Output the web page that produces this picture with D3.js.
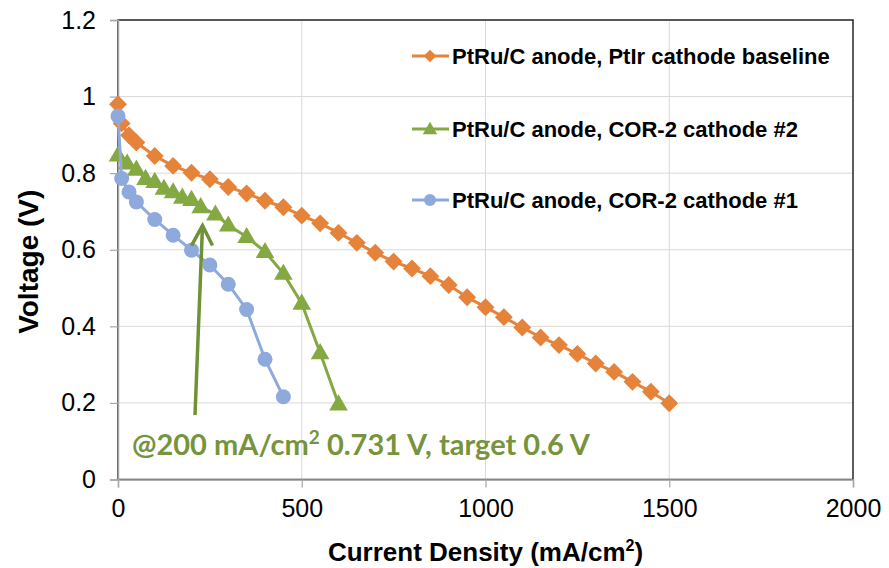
<!DOCTYPE html>
<html><head><meta charset="utf-8">
<script src="https://cdn.jsdelivr.net/npm/d3@7/dist/d3.min.js"></script>
<style>body{margin:0;background:#fff}svg{display:block}</style>
</head><body>
<svg id="c" width="889" height="568"></svg>
<script>
// ---- data ----
const baselineX = [0,10,30,50,100,150,200,250,300,350,400,450,500,550,600,650,700,750,800,850,900,950,1000,1050,1100,1150,1200,1250,1300,1350,1400,1450,1500];
const baselineV = [0.980,0.930,0.899,0.880,0.845,0.819,0.801,0.784,0.764,0.747,0.728,0.711,0.689,0.669,0.644,0.618,0.592,0.569,0.551,0.531,0.508,0.476,0.450,0.424,0.397,0.371,0.351,0.328,0.303,0.281,0.255,0.229,0.199];
const cor2n2X = [0,25,50,75,100,125,150,175,200,225,265,300,350,400,450,500,550,600];
const cor2n2V = [0.847,0.826,0.810,0.786,0.778,0.760,0.751,0.737,0.731,0.712,0.693,0.664,0.634,0.595,0.538,0.460,0.331,0.197];
const cor2n1X = [0,10,30,50,100,150,200,250,300,350,400,450];
const cor2n1V = [0.949,0.786,0.751,0.725,0.679,0.638,0.599,0.560,0.510,0.444,0.314,0.216];
const seriesNames = ["PtRu/C anode, PtIr cathode baseline","PtRu/C anode, COR-2 cathode #2","PtRu/C anode, COR-2 cathode #1"];
const xTicks = [0,500,1000,1500,2000];
const yTicks = [0,0.2,0.4,0.6,0.8,1,1.2];
const annoX = [200], annoV = [0.731];

const svg = d3.select("#c");
const L=118,R=853,T=20,B=479.5;
const x = d3.scaleLinear().domain([0,2000]).range([L,R]);
const y = d3.scaleLinear().domain([0,1.2]).range([B,T]);

// gridlines
svg.append("g").selectAll("line").data(yTicks.slice(1)).join("line")
  .attr("x1",L).attr("x2",R).attr("y1",d=>y(d)).attr("y2",d=>y(d))
  .attr("stroke","#D9D9D9").attr("stroke-width",1);
svg.append("g").selectAll("line").data(xTicks.slice(1,-1)).join("line")
  .attr("y1",T).attr("y2",B).attr("x1",d=>x(d)).attr("x2",d=>x(d))
  .attr("stroke","#D9D9D9").attr("stroke-width",1);
// plot border
svg.append("rect").attr("x",L).attr("y",T).attr("width",R-L).attr("height",B-T)
  .attr("fill","none").attr("stroke","#262626").attr("stroke-width",1.5);

// axes
const xAxis = d3.axisBottom(x).tickValues(xTicks).tickSize(8).tickPadding(12).tickFormat(d3.format("d"));
const yAxis = d3.axisLeft(y).tickValues(yTicks).tickSize(8).tickPadding(14).tickFormat(d=>String(d));
const gx = svg.append("g").attr("transform",`translate(0,${B})`).call(xAxis);
const gy = svg.append("g").attr("transform",`translate(${L},0)`).call(yAxis);
[gx,gy].forEach(g=>{
  g.select(".domain").attr("stroke","#A6A6A6").attr("stroke-width",1.5);
  g.selectAll(".tick line").attr("stroke","#A6A6A6").attr("stroke-width",1.2);
  g.selectAll("text").attr("fill","#000").attr("font-family","'Liberation Sans',Arial,sans-serif").attr("font-size",25);
});

// axis titles
svg.append("text").attr("x",(L+R)/2).attr("y",561).attr("text-anchor","middle")
  .attr("font-family","'Liberation Sans',Arial,sans-serif").attr("font-weight","bold").attr("font-size",26)
  .html('Current Density (mA/cm<tspan dy="-10" font-size="16">2</tspan><tspan dy="10">)</tspan>');
svg.append("text").attr("transform",`translate(38,${(T+B)/2+12}) rotate(-90)`).attr("text-anchor","middle")
  .attr("font-family","'Liberation Sans',Arial,sans-serif").attr("font-weight","bold").attr("font-size",28)
  .text("Voltage (V)");

// series
const colors = ["#E5833B","#84A842","#8EA9DB"];
const data = [
  baselineX.map((d,i)=>[d,baselineV[i]]),
  cor2n2X.map((d,i)=>[d,cor2n2V[i]]),
  cor2n1X.map((d,i)=>[d,cor2n1V[i]])
];
const line = d3.line().x(d=>x(d[0])).y(d=>y(d[1]));
function marker(g, i, px, py){
  if(i===0){
    g.append("path").attr("d",d3.symbol().type(d3.symbolSquare).size(160)())
     .attr("transform",`translate(${px},${py}) rotate(45)`).attr("fill",colors[0]);
  } else if(i===1){
    g.append("path").attr("d",d3.symbol().type(d3.symbolTriangle).size(150)())
     .attr("transform",`translate(${px},${py+1})`).attr("fill",colors[1]);
  } else {
    g.append("circle").attr("cx",px).attr("cy",py).attr("r",7.5).attr("fill",colors[2]);
  }
}
[0,1,2].forEach(i=>{
  const g = svg.append("g");
  g.append("path").attr("d",line(data[i])).attr("fill","none").attr("stroke",colors[i]).attr("stroke-width",3);
  data[i].forEach(d=>marker(g,i,x(d[0]),y(d[1])));
});

// legend
const legY = [56,129,200];
seriesNames.forEach((n,i)=>{
  const g = svg.append("g");
  g.append("line").attr("x1",412).attr("x2",449).attr("y1",legY[i]).attr("y2",legY[i]).attr("stroke",colors[i]).attr("stroke-width",3);
  if(i===0){
    g.append("path").attr("d",d3.symbol().type(d3.symbolSquare).size(80)())
     .attr("transform",`translate(430,${legY[i]}) rotate(45)`).attr("fill",colors[0]);
  } else if(i===1){
    g.append("path").attr("d",d3.symbol().type(d3.symbolTriangle).size(90)())
     .attr("transform",`translate(430,${legY[i]+1})`).attr("fill",colors[1]);
  } else {
    g.append("circle").attr("cx",430).attr("cy",legY[i]).attr("r",6).attr("fill",colors[2]);
  }
  g.append("text").attr("x",452).attr("y",legY[i]+8).attr("font-family","'Liberation Sans',Arial,sans-serif")
    .attr("font-weight","bold").attr("font-size",22).attr("fill","#000").text(n);
});

// annotation arrow
const ax = x(annoX[0]), ay = y(annoV[0]);
const arrowColor = "#6F9236";
const tipX = ax+11, tipY = ay+26;
svg.append("line").attr("x1",195).attr("y1",415).attr("x2",tipX).attr("y2",tipY)
  .attr("stroke",arrowColor).attr("stroke-width",3.5);
svg.append("path").attr("d",`M${tipX-11},${tipY+20} L${tipX},${tipY} L${tipX+10},${tipY+20}`)
  .attr("fill","none").attr("stroke",arrowColor).attr("stroke-width",3.5).attr("stroke-linejoin","miter");
svg.append("text").attr("x",132).attr("y",455)
  .attr("font-family","Lato,'Open Sans',sans-serif").attr("font-weight","bold").attr("font-size",29).attr("fill","#77933C")
  .html('@200 mA/cm<tspan dy="-11" font-size="19">2</tspan><tspan dy="11"> 0.731 V, target 0.6 V</tspan>');
</script>
</body></html>
